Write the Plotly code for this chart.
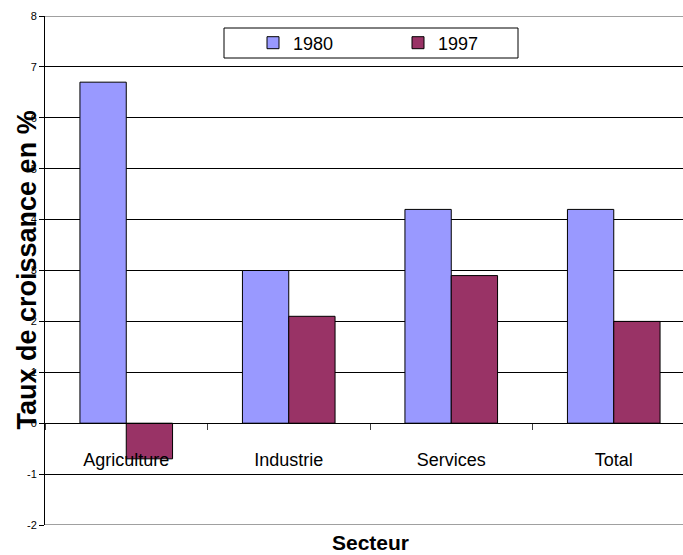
import plotly.graph_objects as go

# Growth rate by sector (%)
secteurs = ["Agriculture", "Industrie", "Services", "Total"]
taux_1980 = [6.7, 3.0, 4.2, 4.2]
taux_1997 = [-0.7, 2.1, 2.9, 2.0]
y_ticks = [-2, -1, 0, 1, 2, 3, 4, 5, 6, 7, 8]

FONT = "Liberation Sans, Arial, sans-serif"

fig = go.Figure()
fig.add_trace(go.Bar(
    x=secteurs, y=taux_1980, name="1980",
    marker=dict(color="#9999FF", line=dict(color="#000000", width=1)),
))
fig.add_trace(go.Bar(
    x=secteurs, y=taux_1997, name="1997",
    marker=dict(color="#993366", line=dict(color="#000000", width=1)),
))

W, H = 683, 555
L, R, T, B = 45, 0, 16, 30
pw, ph = W - L - R, H - T - B
cat_px = 162.5  # width of one category slot


def px_x(x):
    return (x - L) / pw


def px_y(y):
    return (H - B - y) / ph


fig.update_layout(
    width=W, height=H,
    margin=dict(l=L, r=R, t=T, b=B, pad=0),
    paper_bgcolor="white", plot_bgcolor="white",
    font=dict(family=FONT, color="#000000"),
    barmode="group", bargap=0.43, bargroupgap=0,
    xaxis=dict(
        range=[-0.5, -0.5 + pw / cat_px],
        anchor="free", position=0.2,
        showline=True, linecolor="#000000", linewidth=1,
        ticks="outside", tickson="boundaries", ticklen=6, tickcolor="#404040",
        ticklabelstandoff=20,
        tickfont=dict(size=18, family=FONT),
        showgrid=False, zeroline=False,
    ),
    yaxis=dict(
        range=[-2, 8], tickvals=y_ticks, ticktext=[str(v) for v in y_ticks],
        showline=True, linecolor="#000000", linewidth=1,
        ticks="outside", ticklen=5, tickcolor="#000000",
        tickfont=dict(size=11, family=FONT),
        showgrid=True, gridcolor="#000000", gridwidth=1,
        zeroline=False,
    ),
    showlegend=True,
    legend=dict(
        orientation="h", x=px_x(253), xanchor="left",
        y=px_y(43), yanchor="middle",
        bgcolor="rgba(0,0,0,0)", borderwidth=0,
        font=dict(size=18, family=FONT),
        entrywidth=100, entrywidthmode="pixels",
        itemclick=False,
    ),
    shapes=[
        # plot frame lines at top and bottom of the value range
        dict(type="line", xref="paper", yref="y", x0=0, x1=1, y0=8, y1=8,
             line=dict(color="#808080", width=1.5), layer="below"),
        dict(type="line", xref="paper", yref="y", x0=0, x1=1, y0=-2, y1=-2,
             line=dict(color="#808080", width=1.5), layer="below"),
        # legend box
        dict(type="rect", xref="paper", yref="paper",
             x0=px_x(224), x1=px_x(518), y0=px_y(58), y1=px_y(28),
             fillcolor="white", line=dict(color="#000000", width=1),
             layer="above"),
    ],
    annotations=[
        dict(text="<b>Taux de croissance en %</b>", textangle=-90,
             xref="paper", yref="paper", x=px_x(26), y=0.5,
             xanchor="center", yanchor="middle", showarrow=False,
             font=dict(size=27, family=FONT)),
        dict(text="<b>Secteur</b>",
             xref="paper", yref="paper", x=px_x(370), y=px_y(542),
             xanchor="center", yanchor="middle", showarrow=False,
             font=dict(size=21, family=FONT)),
    ],
)

fig.write_html("out.html")
